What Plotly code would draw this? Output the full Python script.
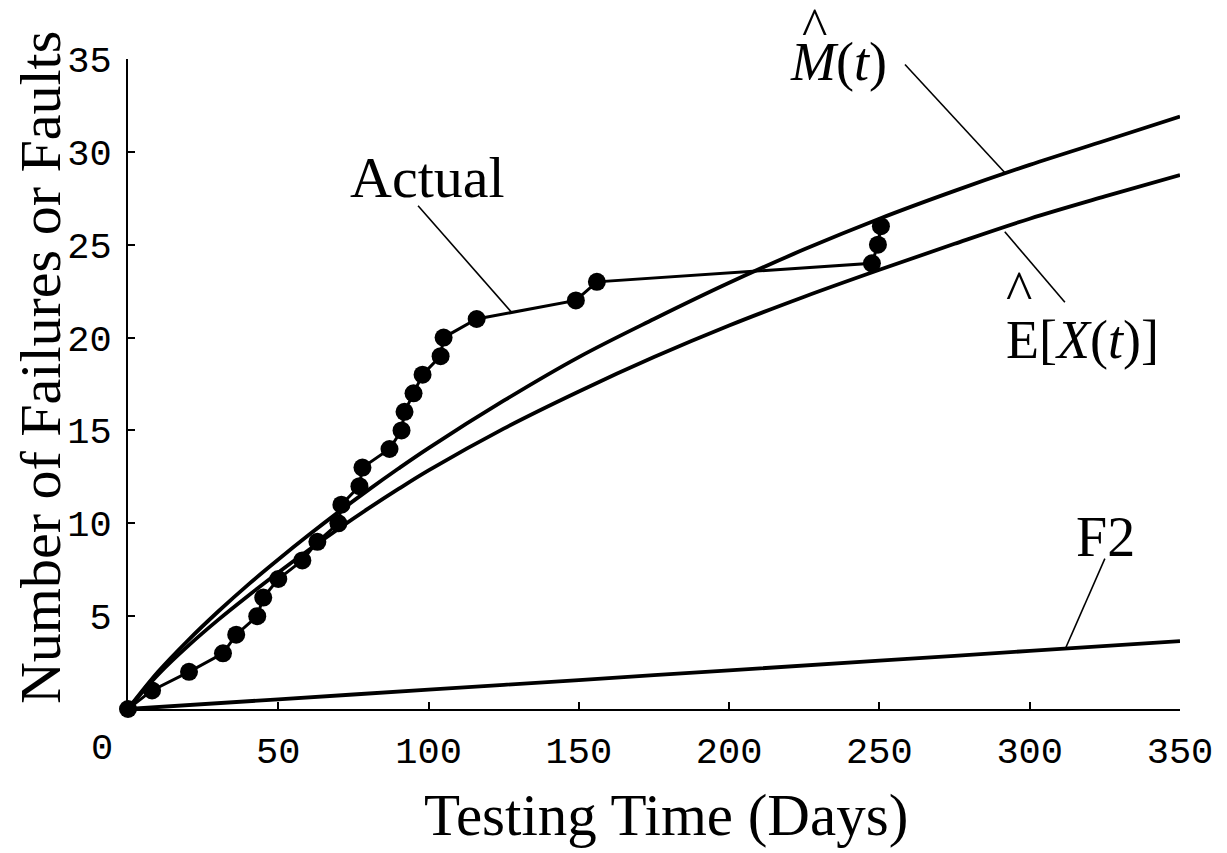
import plotly.graph_objects as go

# Observed cumulative failures: testing day of each failure and running count
actual_days = [0, 8, 20.3, 31.6, 36, 43, 45, 50, 58, 63, 70, 71, 77, 78, 87, 91, 92, 95,
               98, 104, 105, 116, 149, 156, 247.5, 249.5, 250.5]
actual_count = list(range(0, 27))

# Estimated mean value function M^(t)
m_days = [0, 10, 20, 30, 40, 50, 60, 70, 80, 90, 100, 125, 150, 175, 200, 225, 250,
          275, 300, 325, 350]
m_vals = [0, 2.0, 3.7, 5.25, 6.7, 8.05, 9.35, 10.6, 11.8, 12.95, 14.05, 16.6, 18.95,
          21.0, 22.95, 24.75, 26.4, 27.9, 29.3, 30.6, 31.9]

# Estimated expected number of faults E^[X(t)]
e_days = [0, 10, 20, 30, 40, 50, 60, 70, 80, 90, 100, 125, 150, 175, 200, 225, 250,
          275, 300, 325, 350]
e_vals = [0, 1.85, 3.4, 4.8, 6.1, 7.35, 8.55, 9.7, 10.8, 11.85, 12.85, 15.1, 17.1,
          18.95, 20.65, 22.2, 23.65, 25.05, 26.4, 27.6, 28.75]

# F2 curve
f2_days = [0, 50, 100, 150, 200, 250, 300, 350]
f2_vals = [0, 0.52, 1.04, 1.56, 2.08, 2.6, 3.13, 3.65]

x_ticks = [0, 50, 100, 150, 200, 250, 300, 350]
y_ticks = [5, 10, 15, 20, 25, 30, 35]

SERIF = "Liberation Serif, Times New Roman, serif"
MONO = "Liberation Mono, Courier New, monospace"

fig = go.Figure()

for xs, ys in [(m_days, m_vals), (e_days, e_vals), (f2_days, f2_vals)]:
    fig.add_trace(go.Scatter(x=xs, y=ys, mode="lines",
                             line=dict(color="black", width=3.8, shape="spline", smoothing=1.0),
                             cliponaxis=False, showlegend=False, hoverinfo="skip"))

fig.add_trace(go.Scatter(x=actual_days, y=actual_count, mode="lines+markers",
                         line=dict(color="black", width=3),
                         marker=dict(color="black", size=18),
                         cliponaxis=False, showlegend=False))

# leader lines from the curve labels
leaders = [
    (96.5, 27.1, 127.4, 21.4),    # Actual
    (258.5, 34.7, 291.6, 28.9),   # M^(t)
    (291.7, 25.7, 311.7, 21.9),   # E^[X(t)]
    (325.0, 8.1, 312.0, 3.3),     # F2
]
for x0, y0, x1, y1 in leaders:
    fig.add_shape(type="line", xref="x", yref="y", x0=x0, y0=y0, x1=x1, y1=y1,
                  line=dict(color="black", width=1.6))

def label(text, x, y, size=56, xref="paper", yref="paper", angle=0, family=SERIF):
    fig.add_annotation(text=text, x=x, y=y, xref=xref, yref=yref, showarrow=False,
                       xanchor="center", yanchor="middle", textangle=angle,
                       font=dict(family=family, size=size, color="black"))

# curve labels (paper coordinates so nothing is dropped outside the axis range)
label("Actual", 0.285, 0.818, size=58)
label("<i>M</i>(<i>t</i>)", 0.675, 0.995, size=54)
label("^", 0.653, 1.049, size=54)
label("E[<i>X</i>(<i>t</i>)]", 0.907, 0.568, size=54)
label("^", 0.847, 0.643, size=56)
label("F2", 0.929, 0.265, size=56)

# axis titles
label("Testing Time (Days)", 0.511, -0.163, size=59)
label("Number of Failures or Faults", -0.0837, 0.526, size=58, angle=-90)

# the zero label sits a little left of the origin
label("0", -0.0247, -0.061, size=37, family=MONO)

fig.update_xaxes(range=[0, 350], tickvals=x_ticks,
                 ticktext=[""] + [str(v) for v in x_ticks[1:]],
                 ticks="inside", ticklen=7, tickwidth=1.5, tickcolor="black",
                 showline=True, linewidth=2, linecolor="black",
                 showgrid=False, zeroline=False, ticklabelstandoff=8,
                 tickfont=dict(family=MONO, size=37, color="black"))
fig.update_yaxes(range=[0, 35], tickvals=y_ticks,
                 ticks="inside", ticklen=7, tickwidth=1.5, tickcolor="black",
                 showline=True, linewidth=2, linecolor="black",
                 showgrid=False, zeroline=False, ticklabelstandoff=7,
                 tickfont=dict(family=MONO, size=37, color="black"))

fig.update_layout(width=1227, height=853, autosize=False,
                  margin=dict(l=128, r=47, t=59, b=144),
                  plot_bgcolor="white", paper_bgcolor="white",
                  showlegend=False)

fig.write_html("out.html")
